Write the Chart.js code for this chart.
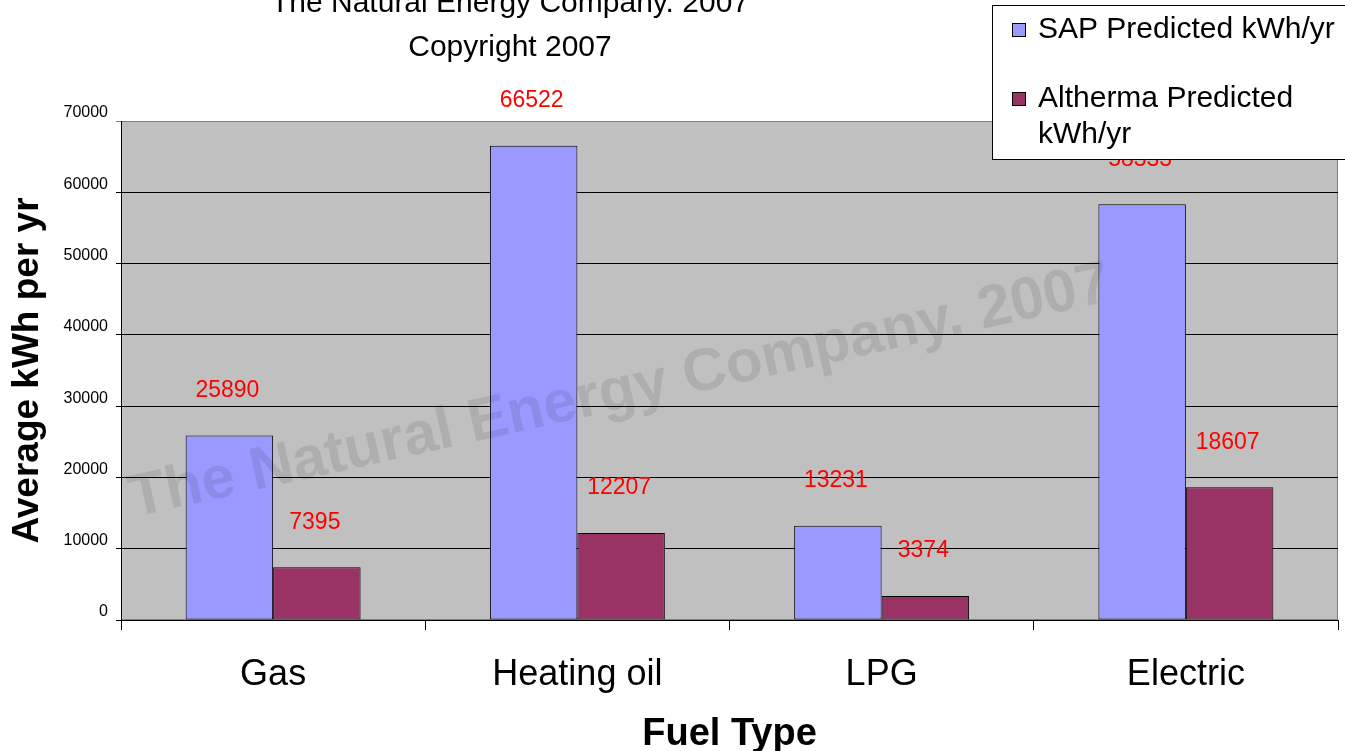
<!DOCTYPE html>
<html>
<head>
<meta charset="utf-8">
<script src="https://cdn.jsdelivr.net/npm/chart.js@4/dist/chart.umd.min.js"></script>
<style>
  html, body { margin: 0; padding: 0; background: #fff; }
  #wrap { width: 1345px; height: 751px; }
</style>
</head>
<body>
<div id="wrap"><canvas id="chart" width="1345" height="751"></canvas></div>
<script>
const categories = ["Gas", "Heating oil", "LPG", "Electric"];
const sapValues = [25890, 66522, 13231, 58333];
const althermaValues = [7395, 12207, 3374, 18607];
const seriesNames = ["SAP Predicted kWh/yr", "Altherma Predicted kWh/yr"];
const titleLines = ["The Natural Energy Company. 2007", "Copyright 2007"];
const watermarkText = "The Natural Energy Company. 2007";

const FONT = "'Liberation Sans', Arial, sans-serif";

// grey plot area + frame
const plotBackground = {
  id: "plotBackground",
  beforeDraw(chart) {
    const { ctx, chartArea: a } = chart;
    ctx.save();
    ctx.fillStyle = "#C0C0C0";
    ctx.fillRect(a.left, a.top, a.right - a.left, a.bottom - a.top);
    ctx.strokeStyle = "#808080";
    ctx.lineWidth = 1;
    ctx.strokeRect(a.left + 0.5, a.top + 0.5, a.right - a.left - 1, a.bottom - a.top - 1);
    ctx.restore();
  }
};

// red value labels above each bar, then the translucent watermark over everything in the plot
const valueLabels = {
  id: "valueLabels",
  afterDatasetsDraw(chart) {
    const { ctx } = chart;
    ctx.save();
    ctx.font = "23px " + FONT;
    ctx.fillStyle = "#FF0000";
    ctx.textAlign = "center";
    ctx.textBaseline = "middle";
    chart.data.datasets.forEach((ds, i) => {
      chart.getDatasetMeta(i).data.forEach((bar, j) => {
        ctx.fillText(String(ds.data[j]), bar.x - 2, bar.y - 45);
      });
    });
    ctx.restore();

    ctx.save();
    ctx.translate(134, 517);
    ctx.rotate(-12.5 * Math.PI / 180);
    ctx.font = "bold 60px " + FONT;
    ctx.fillStyle = "rgba(0,0,0,0.09)";
    ctx.textBaseline = "alphabetic";
    ctx.fillText(watermarkText, 0, 0);
    ctx.restore();
  }
};

// title (off-centre, clipped at the top) and boxed legend
const titleAndLegend = {
  id: "titleAndLegend",
  afterDraw(chart) {
    const { ctx } = chart;
    ctx.save();
    ctx.fillStyle = "#000";
    ctx.font = "30px " + FONT;
    ctx.textAlign = "center";
    ctx.textBaseline = "alphabetic";
    ctx.fillText(titleLines[0], 510, 12);
    ctx.fillText(titleLines[1], 510, 56);

    ctx.fillStyle = "#fff";
    ctx.fillRect(992, 5, 360, 155);
    ctx.strokeStyle = "#000";
    ctx.lineWidth = 1;
    ctx.strokeRect(992.5, 5.5, 360, 154);

    ctx.font = "30px " + FONT;
    ctx.textAlign = "left";
    ctx.textBaseline = "middle";
    const rows = [
      { y: 30, lines: [seriesNames[0]] },
      { y: 99, lines: ["Altherma Predicted", "kWh/yr"] }
    ];
    rows.forEach((r, i) => {
      ctx.fillStyle = chart.data.datasets[i].backgroundColor;
      ctx.fillRect(1012, r.y - 7, 14, 14);
      ctx.strokeStyle = "#000";
      ctx.strokeRect(1012.5, r.y - 6.5, 13, 13);
      ctx.fillStyle = "#000";
      r.lines.forEach((t, k) => ctx.fillText(t, 1038, r.y + k * 36));
    });
    ctx.restore();
  }
};

new Chart(document.getElementById("chart"), {
  type: "bar",
  data: {
    labels: categories,
    datasets: [
      {
        label: seriesNames[0],
        data: sapValues,
        backgroundColor: "#9999FF",
        borderColor: "#000",
        borderWidth: 1,
        borderSkipped: false
      },
      {
        label: seriesNames[1],
        data: althermaValues,
        backgroundColor: "#993366",
        borderColor: "#000",
        borderWidth: 1,
        borderSkipped: false
      }
    ]
  },
  options: {
    responsive: false,
    animation: false,
    layout: { padding: { top: 121, right: 7, bottom: 0, left: 0 } },
    datasets: { bar: { categoryPercentage: 0.575, barPercentage: 1 } },
    plugins: {
      legend: { display: false },
      title: { display: false },
      tooltip: { enabled: false }
    },
    scales: {
      x: {
        afterFit(scale) { scale.height = 131; },
        grid: {
          offset: true,
          drawOnChartArea: false,
          drawTicks: true,
          tickLength: 10,
          color: "#000"
        },
        border: { color: "#000" },
        ticks: {
          color: "#000",
          font: { family: FONT, size: 36 },
          padding: 23
        },
        title: {
          display: true,
          text: "Fuel Type",
          color: "#000",
          font: { family: FONT, size: 38, weight: "bold", lineHeight: 0.85 },
          padding: { top: 0, bottom: 0 }
        }
      },
      y: {
        min: 0,
        max: 70000,
        afterFit(scale) { scale.width = 121; },
        grid: {
          color: ctx => (ctx.tick && ctx.tick.value === 70000 ? "#808080" : "#000"),
          tickLength: 5
        },
        border: { color: "#000" },
        ticks: {
          stepSize: 10000,
          color: "#000",
          font: { family: FONT, size: 16 },
          padding: 8,
          labelOffset: -8,
          callback: v => String(v)
        },
        title: {
          display: true,
          text: "Average kWh per yr",
          color: "#000",
          font: { family: FONT, size: 37, weight: "bold", lineHeight: 1.2 },
          padding: { top: 6, bottom: 0 }
        }
      }
    }
  },
  plugins: [plotBackground, valueLabels, titleAndLegend]
});
</script>
</body>
</html>
